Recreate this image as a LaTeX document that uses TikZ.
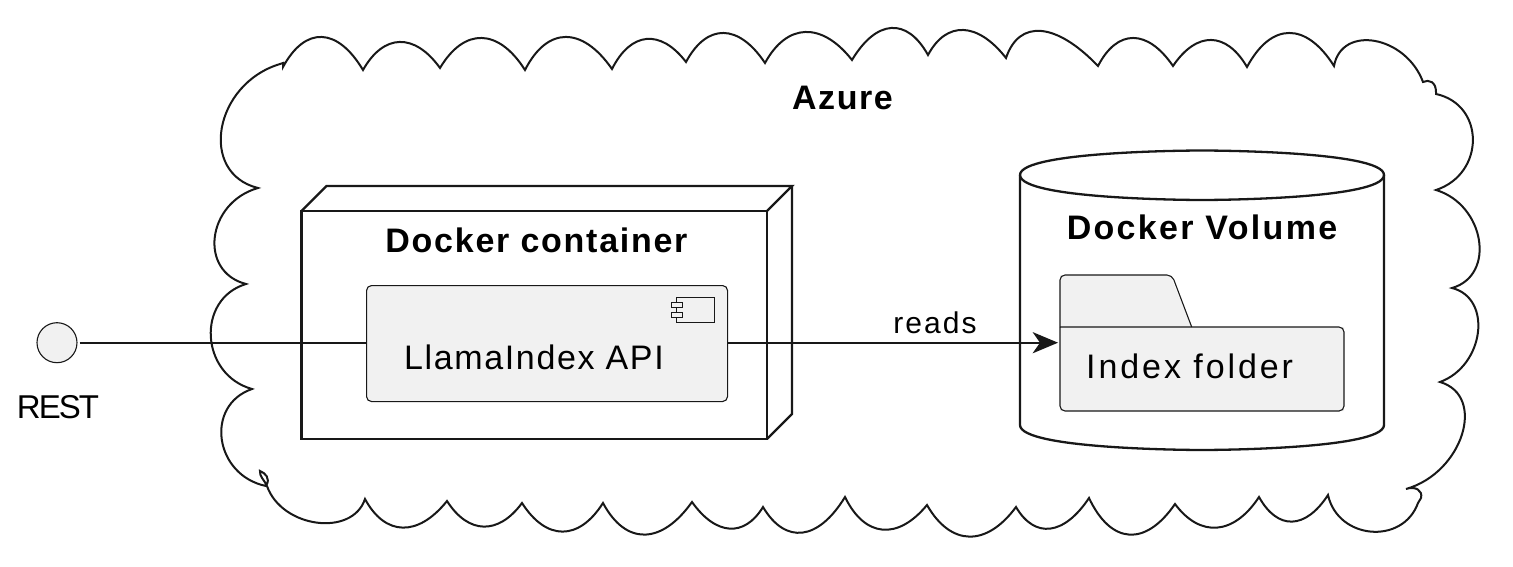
\documentclass[tikz,border=0pt]{standalone}
\usepackage{fontspec}
\setmainfont{Liberation Sans}
\newfontfamily\tightfont[LetterSpace=-6]{Liberation Sans}
\usetikzlibrary{calc}
\definecolor{boxgrey}{HTML}{F1F1F1}
\definecolor{inkc}{HTML}{181818}
\def\scal#1#2#3{.. controls ($(#1)+0.3*(#3)-0.3*(#1)+1.333*(#2)-0.667*(#1)-0.667*(#3)$) and ($(#3)+0.3*(#1)-0.3*(#3)+1.333*(#2)-0.667*(#1)-0.667*(#3)$) .. (#3)}
\def\rscal#1#2#3{.. controls ($(#1)+0.14*(#3)-0.14*(#1)+1.333*(#2)-0.667*(#1)-0.667*(#3)$) and ($(#3)+0.14*(#1)-0.14*(#3)+1.333*(#2)-0.667*(#1)-0.667*(#3)$) .. (#3)}
\def\spaced#1{\addfontfeature{LetterSpace=#1}}
\tikzset{
  x=1pt,y=-1pt,
  outline/.style={draw=inkc,line width=2.3pt,line join=miter},
  cloudline/.style={draw=inkc,line width=2pt,line join=miter},
  thin outline/.style={draw=inkc,line width=1.1pt},
  wire/.style={draw=inkc,line width=2.3pt},
  greybox/.style={thin outline,fill=boxgrey,rounded corners=5pt,inner sep=0pt},
  headtext/.style={inner sep=0pt,font=\bfseries\fontsize{34}{34}\selectfont},
  bodytext/.style={inner sep=0pt,font=\fontsize{34}{34}\selectfont},
}
\begin{document}
\begin{tikzpicture}
\useasboundingbox (0,0) rectangle (1513,567);
% cloud
\draw[cloudline]
 (280,64) -- (283,63) -- (283,67)
 \scal{283,67}{322,37}{363,70} \scal{363,70}{400,42}{440,68} \scal{440,68}{482,38}{525,70}
 \scal{525,70}{566,37}{612,69} \scal{612,69}{647,39}{686,62} \scal{686,62}{724,33}{765,63}
 \scal{765,63}{806,32}{852,60} \scal{852,60}{892,28}{928,55} \scal{928,55}{964,30}{1006,58}
 \scal{1006,58}{1042,31}{1098,66} \scal{1098,66}{1134,38}{1173,66} \scal{1173,66}{1212,40}{1247,67}
 \scal{1247,67}{1290,33}{1334,66} \rscal{1334,66}{1376,41}{1423,82}
 .. controls (1429,79) and (1436,82) .. (1436,92) -- (1436,94)
 \rscal{1436,94}{1474,140}{1436,190} \rscal{1436,190}{1480,240}{1452,288}
 \rscal{1452,288}{1479,333}{1440,382} \rscal{1440,382}{1463,435}{1406,489}
 .. controls (1415,486) and (1423,490) .. (1421,498) -- (1418,503)
 \rscal{1418,503}{1372,532}{1328,495} \scal{1328,495}{1293,522}{1259,497} \scal{1259,497}{1218,528}{1175,504}
 \scal{1175,504}{1130,535}{1089,498} \scal{1089,498}{1051,529}{1016,507} \scal{1016,507}{970,537}{927,505}
 \scal{927,505}{883,530}{845,497} \scal{845,497}{803,533}{763,507} \scal{763,507}{730,529}{692,502}
 \scal{692,502}{645,535}{603,503} \scal{603,503}{563,532}{522,503} \scal{522,503}{484,527}{447,501}
 \scal{447,501}{403,528}{365,499} \rscal{365,499}{317,523}{267,486}
 .. controls (265,481) and (259,476) .. (260,471) .. controls (265,473) and (271,478) .. (266,486)
 \rscal{266,486}{222,440}{252,389} \rscal{252,389}{211,337}{246,284} \rscal{246,284}{215,237}{258,188}
 \rscal{258,188}{222,128}{280,64};
\node[headtext] (azure) at (842.5,98) {\spaced{4.7}Azure};
% docker container
\coordinate (dfront nw) at (301.5,211);
\coordinate (dfront se) at (767,439);
\draw[outline] (dfront nw) rectangle (dfront se);
\draw[outline] (dfront nw) -- ++(25,-25) -- (792,186) -- (767,211);
\draw[outline] (792,186) -- (792,414) -- (dfront se);
\node[headtext] (dcont) at (536.5,240) {\spaced{5.1}Docker container};
% interface
\node[circle,thin outline,fill=boxgrey,minimum size=40pt,inner sep=0pt] (rest) at (57,342.7) {};
\node[inner sep=0pt,font=\tightfont\fontsize{33}{33}\selectfont] (resttext) at (58,407) {REST};
% component
\node[greybox,minimum width=361pt,minimum height=116pt,anchor=north west] (comp) at (366,285) {};
\node[bodytext,anchor=west] (comptext) at (404,357.3) {\spaced{4.8}LlamaIndex API};
\node[thin outline,fill=boxgrey,minimum width=37.5pt,minimum height=25pt,inner sep=0pt] (cicon) at (695.5,309.8) {};
\node[thin outline,fill=boxgrey,minimum width=10.5pt,minimum height=5pt,inner sep=0pt] (ctab a) at (677,305.2) {};
\node[thin outline,fill=boxgrey,minimum width=10.5pt,minimum height=5pt,inner sep=0pt] (ctab b) at (677,314.8) {};
% database
\draw[outline] (1020,175) .. controls (1020,150.5) and (1202,150.5) .. (1202,150.5)
  .. controls (1202,150.5) and (1384,150.5) .. (1384,175) -- (1384,425)
  .. controls (1384,450) and (1202,450) .. (1202,450)
  .. controls (1202,450) and (1020,450) .. (1020,425) -- cycle;
\draw[outline] (1020,175) .. controls (1020,200) and (1202,200) .. (1202,200)
  .. controls (1202,200) and (1384,200) .. (1384,175);
\node[headtext] (dvol) at (1202,227.3) {\spaced{6.8}Docker Volume};
% folder
\fill[boxgrey] (1060,327) -- (1060,275) -- (1170,275) -- (1191.7,327) -- (1344,327) -- (1344,411) -- (1060,411) -- cycle;
\draw[thin outline,rounded corners=5pt] (1060,327) -- (1060,275) -- (1172,275) -- (1191.7,327);
\draw[thin outline,rounded corners=5pt] (1060,327) -- (1344,327) -- (1344,411) -- (1060,411) -- (1060,327);
\node[bodytext,anchor=west] (foldtext) at (1086,366.3) {\spaced{8.6}Index folder};
\coordinate (foldin) at (1058,342.7);
% connectors
\coordinate (compin) at (comp.west |- rest);
\draw[wire,shorten <=2pt] (rest.east) -- (compin);
\coordinate (compout) at (comp.east |- rest);
\coordinate (arrowneck) at (1040,342.7);
\draw[wire] (compout) -- (arrowneck);
\fill[inkc] (foldin) -- (1032.5,332) -- (arrowneck) -- (1032.5,353.4) -- cycle;
\node[inner sep=0pt,font=\fontsize{30}{30}\selectfont] (reads) at (935,323) {\spaced{6.7}reads};
\end{tikzpicture}
\end{document}
